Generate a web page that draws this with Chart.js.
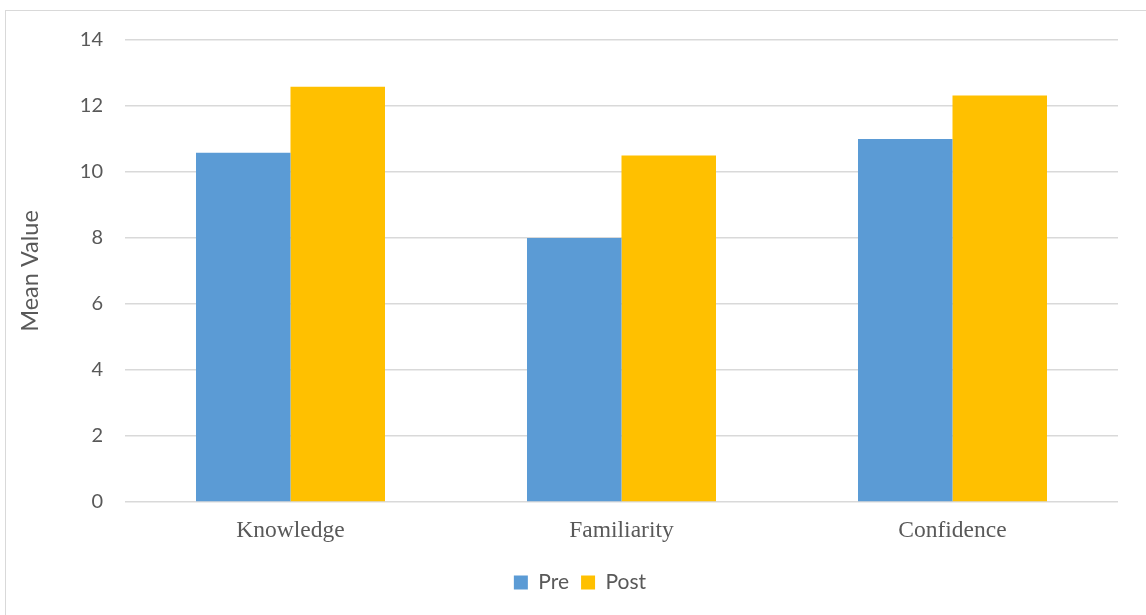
<!DOCTYPE html>
<html>
<head>
<meta charset="utf-8">
<script src="https://cdn.jsdelivr.net/npm/chart.js@4"></script>
<style>
html,body{margin:0;padding:0;background:#fff;}
#wrap{position:relative;width:1146px;height:615px;}
</style>
</head>
<body>
<div id="wrap"><canvas id="c" width="1146" height="615"></canvas></div>
<script>
const categories = ["Knowledge", "Familiarity", "Confidence"];
const preValues = [10.58, 8.0, 11.0];
const postValues = [12.58, 10.5, 12.32];
const seriesNames = ["Pre", "Post"];
const yTicks = [0, 2, 4, 6, 8, 10, 12, 14];

const frame = {
  id: 'frame',
  beforeDraw(chart) {
    const ctx = chart.ctx;
    ctx.save();
    ctx.strokeStyle = '#d9d9d9';
    ctx.lineWidth = 1;
    ctx.strokeRect(5.5, 10.5, 1200, 700);
    ctx.restore();
  }
};

new Chart(document.getElementById('c'), {
  type: 'bar',
  data: {
    labels: categories,
    datasets: [
      { label: seriesNames[0], data: preValues, backgroundColor: '#5b9bd5', categoryPercentage: 0.571, barPercentage: 1.0 },
      { label: seriesNames[1], data: postValues, backgroundColor: '#ffc000', categoryPercentage: 0.571, barPercentage: 1.0 }
    ]
  },
  plugins: [frame],
  options: {
    responsive: false,
    animation: false,
    devicePixelRatio: 1,
    layout: { padding: { left: 42, right: 28, top: 40, bottom: 12 } },
    plugins: {
      legend: {
        position: 'bottom',
        labels: {
          color: '#595959',
          font: { family: 'Lato', size: 21 },
          boxWidth: 14,
          boxHeight: 14,
          padding: 12
        }
      },
      tooltip: { enabled: false }
    },
    scales: {
      x: {
        grid: { display: false },
        border: { display: false },
        ticks: { color: '#595959', font: { family: 'Liberation Serif', size: 23.5 }, padding: 7 },
        afterFit(s) { s.height = 58; }
      },
      y: {
        min: 0, max: 14,
        afterBuildTicks(s) { s.ticks = yTicks.map(v => ({ value: v })); },
        grid: { color: '#d9d9d9', lineWidth: 1.5, drawTicks: false },
        border: { display: false },
        ticks: { color: '#595959', font: { family: 'Lato', size: 20 }, padding: 22 },
        title: { display: true, text: 'Mean Value', color: '#595959', font: { family: 'Lato', size: 23.5 }, padding: { top: -26, bottom: 10 } },
        afterFit(s) { s.width = 83; }
      }
    }
  }
});
</script>
</body>
</html>
